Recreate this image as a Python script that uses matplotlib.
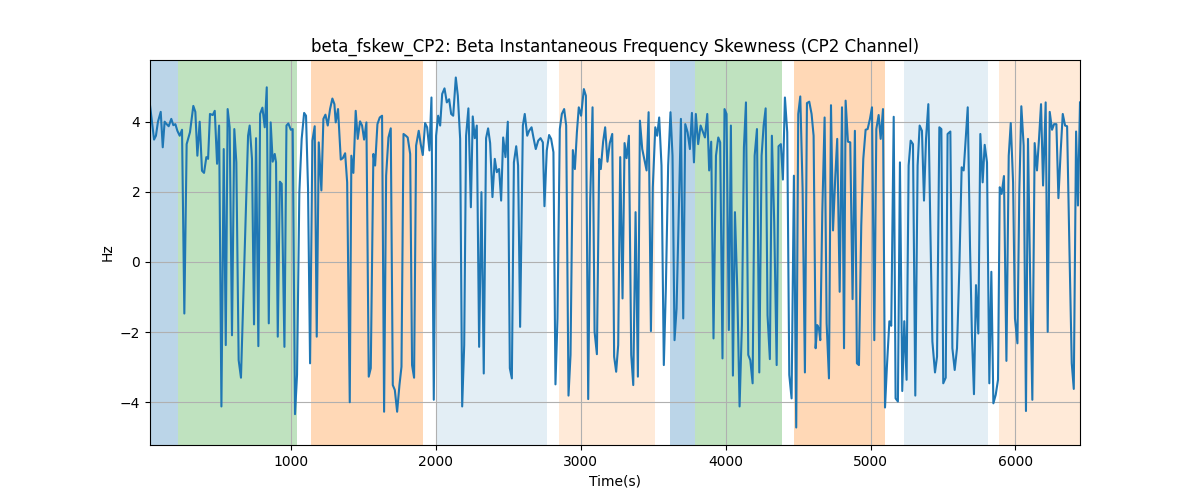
import matplotlib
matplotlib.use("Agg")
import matplotlib.pyplot as plt

title = "beta_fskew_CP2: Beta Instantaneous Frequency Skewness (CP2 Channel)"

times = [
    26, 54, 67, 81, 100, 114, 127, 141, 155, 173, 187, 201, 215, 231, 247, 263, 279, 302, 325, 339,
    353, 369, 385, 399, 415, 427, 440, 459, 473, 489, 503, 519, 535, 549, 562, 576, 592, 608, 622, 638,
    654, 703, 714, 730, 744, 758, 774, 786, 802, 818,
    832, 846, 859, 873, 887, 896, 908, 922, 935, 954, 968, 981, 998, 1011, 1027, 1041, 1057, 1073, 1090, 1103,
    1117, 1131, 1147, 1163, 1177, 1191, 1209, 1223, 1237, 1253, 1269, 1285, 1299, 1308, 1324, 1343, 1357, 1373, 1387, 1405,
    1416, 1430, 1446, 1460, 1476, 1490, 1504, 1520, 1536, 1550, 1568, 1580, 1596, 1612, 1628,
    1642, 1656, 1672, 1688, 1702, 1716, 1732, 1748, 1762, 1776, 1792, 1805, 1822, 1835, 1849, 1863, 1881, 1895, 1909, 1925,
    1939, 1955, 1969, 1985, 2001, 2015, 2029, 2043, 2059, 2075, 2091, 2105, 2119, 2137, 2151, 2167, 2181, 2195, 2208, 2224,
    2241, 2254, 2268, 2282, 2298, 2314, 2330, 2346, 2360, 2374, 2390, 2406, 2420,
    2427, 2436, 2450, 2464, 2480, 2496, 2510, 2524, 2538, 2554, 2567, 2581, 2600, 2613, 2630, 2643, 2660, 2673, 2689, 2706,
    2722, 2738, 2749, 2765, 2781, 2795, 2811, 2825, 2839, 2855, 2869, 2885, 2899, 2915, 2929, 2945, 2959, 2973, 2986, 3002,
    3021, 3035, 3051, 3065, 3081, 3095, 3111, 3127, 3138, 3154, 3168, 3184, 3200, 3217, 3230,
    3244, 3258, 3272, 3288, 3302, 3316, 3332, 3348, 3362, 3378, 3394, 3408, 3424, 3440, 3454, 3468, 3484, 3497, 3514, 3527,
    3541, 3557, 3573, 3587, 3603, 3619, 3633, 3647, 3661, 3677, 3691, 3707, 3721, 3737, 3753, 3767, 3781, 3794, 3810, 3827,
    3840, 3857, 3873, 3886, 3900, 3916, 3933, 3949, 3962, 3978, 3992, 4006, 4022,
    4036, 4050, 4064, 4080, 4096, 4112, 4126, 4140, 4156, 4170, 4186, 4200, 4216, 4232, 4248, 4262, 4276, 4289, 4305, 4319,
    4335, 4352, 4365, 4381, 4395, 4409, 4425, 4439, 4455, 4471, 4487, 4501, 4515, 4531, 4547, 4561, 4577, 4593, 4607, 4621,
    4632, 4644, 4653, 4667, 4683, 4697, 4713, 4727, 4741, 4757, 4770, 4787, 4803, 4817, 4828,
    4844, 4860, 4876, 4892, 4906, 4920, 4936, 4950, 4966, 4980, 4996, 5010, 5026, 5040, 5056, 5070, 5086, 5100, 5113, 5130,
    5143, 5160, 5173, 5189, 5203, 5219, 5233, 5249, 5263, 5277, 5293, 5309, 5325, 5339, 5355, 5369, 5383, 5399, 5413, 5427,
    5445, 5459, 5475, 5489, 5502, 5519, 5532, 5551, 5565, 5581, 5597, 5613, 5629,
    5643, 5657, 5671, 5687, 5700, 5714, 5728, 5744, 5758, 5774, 5788, 5804, 5820, 5834, 5848, 5864, 5880, 5892, 5905, 5921,
    5938, 5954, 5968, 5984, 5997, 6014, 6027, 6041, 6057, 6073, 6087, 6103, 6117, 6133, 6149, 6163, 6177, 6191, 6209, 6223,
    6237, 6253, 6267, 6283, 6297, 6313, 6327, 6343, 6357, 6373, 6389, 6403, 6419, 6432, 6446,
]

skew_hz = [
    4.47, 3.49, 3.6, 4.0, 4.28, 3.27, 4.0, 3.93, 3.87, 4.08, 3.9, 3.93, 3.74, 3.6, 3.77, -1.47, 3.36, 3.7, 4.45, 4.28,
    3.03, 4.0, 2.6, 2.54, 2.99, 2.94, 4.22, 4.19, 4.31, 2.8, 3.89, -4.12, 3.22, -2.37, 4.36, 3.84, -2.09, 3.79, 2.84, -2.8,
    -3.3, 3.6, 3.89, 2.94, -1.78, 3.53, -2.4, 4.22, 4.4, 3.84,
    4.98, -1.75, 3.98, 2.86, 3.08, 2.84, -2.13, 2.29, 2.23, -2.42, 3.89, 3.95, 3.77, 3.79, -4.34, -3.22, 1.99, 3.51, 4.25, 4.17,
    2.09, -2.89, 3.46, 3.87, -2.13, 3.41, 2.04, 4.08, 4.2, 3.89, 4.36, 4.66, 4.5, 3.98, 4.36, 2.92, 2.96, 3.1, 2.27, -4.0,
    3.03, 2.54, 4.31, 3.51, 4.01, 3.89, 3.49, 3.98, -3.27, -3.03, 3.08, 2.75, 3.93, 4.12, 4.17,
    -4.27, 2.46, 3.55, 3.81, -3.51, -3.65, -4.27, -3.51, -2.99, 3.65, 3.6, 3.55, 3.08, -2.94, -3.3, 3.32, 3.74, 3.36, 3.05, 3.96,
    3.84, 3.18, 4.69, -3.93, 3.6, 4.17, 3.89, 4.79, 4.95, 4.55, 4.64, 4.22, 4.17, 5.26, 4.74, 3.51, -4.12, -2.37, 3.6, 4.38,
    1.56, 4.15, 3.53, 3.89, -2.42, 1.99, -3.18, 3.53, 3.81, 3.39, 1.85, 2.94, 2.56,
    2.61, 2.65, 1.75, 3.55, 2.99, 4.0, -3.03, -3.32, 2.84, 3.3, 2.75, -1.85, 3.89, 4.22, 3.6, 3.74, 3.84, 3.55, 3.22, 3.46,
    3.53, 3.41, 1.59, 3.18, 3.62, 3.51, 3.13, -3.49, -1.61, 3.79, 4.22, 4.36, 3.89, -3.81, -2.65, 3.19, 2.65, 3.7, 4.41, 4.17,
    4.93, 4.74, -3.91, 1.8, 4.41, -1.99, -2.63, 2.94, 2.65, 3.43, 3.84, 2.86, 3.39, 3.65, -2.7,
    -3.13, -2.37, 2.99, -1.04, 3.39, 2.96, 3.6, -2.65, -3.51, 1.42, -3.27, 4.03, 3.22, 2.89, 2.61, 4.27, -1.97, 2.13, 3.84, 3.6,
    4.12, 2.75, -2.94, -0.76, 2.75, 4.27, 3.03, -2.23, -1.33, 1.61, 4.08, -1.61, 3.93, 3.7, 3.22, 4.25, 2.84, 4.22, 3.36, 3.89,
    3.74, 3.55, 4.22, 2.61, 3.43, -2.18, 3.03, 3.55, 3.41, -2.75, 4.36, 4.22, -1.94,
    3.89, -3.24, 1.42, -0.76, -4.12, -1.8, 3.27, 4.55, -2.65, -2.8, -3.46, 3.03, 3.79, -3.15, 3.03, 3.89, 4.38, -1.52, -2.77, 3.6,
    1.14, -2.94, 3.3, 3.36, 2.35, 4.69, 3.7, -3.22, -3.89, 2.46, -4.72, 4.22, 4.72, 2.09, -3.15, 4.53, 4.57, 4.22, 3.6, -2.46,
    -1.8, -1.9, -2.23, 1.42, 4.12, -1.75, -3.32, 4.47, 0.9, 2.46, 3.51, -0.85, 4.41, -2.46, 4.6,
    3.43, 3.41, -1.06, 3.74, -2.89, -2.94, 1.04, 2.94, 3.77, 3.79, 4.08, 4.41, -2.23, 3.79, 4.19, 3.51, 4.36, -4.15, -2.99, -1.69,
    -1.82, 4.14, -3.89, -3.98, 2.84, -3.68, -1.69, -3.36, 2.75, 3.46, 3.36, -3.81, 2.75, 3.89, 3.74, 1.75, 3.51, 4.5, 0.95, -2.27,
    -3.15, -2.7, 3.84, 3.79, -3.46, -3.3, 3.65, 3.72, -2.46, -3.08, -2.46, -0.19, 2.7,
    2.61, 3.51, 4.41, 0.38, -2.09, -3.77, -0.66, -2.04, 3.65, 2.27, 3.34, 2.84, -3.46, -0.28, -4.03, -3.79, -3.36, 2.13, 1.94, 2.45,
    -2.82, 3.03, 3.96, 2.27, -1.61, -2.32, 1.99, 4.44, 3.32, -4.25, 3.51, -0.76, -3.93, 3.39, 2.61, 3.51, 4.5, 2.18, 4.55, -1.99,
    4.28, 3.77, 3.93, 3.93, 1.82, 3.18, 4.22, 3.89, 3.87, 0.38, -2.89, -3.62, 3.72, 1.61, 4.55,
]

span_starts = [26, 220, 1138, 2006, 2846, 3614, 3785, 4469, 5229, 5884]
span_ends = [220, 1040, 1912, 2766, 3510, 3785, 4389, 5098, 5812, 6449]
span_colors = ["tab:blue", "tab:green", "tab:orange", "tab:blue", "tab:orange",
               "tab:blue", "tab:green", "tab:orange", "tab:blue", "tab:orange"]
span_alphas = [0.3, 0.3, 0.3, 0.12, 0.16, 0.3, 0.3, 0.3, 0.12, 0.16]

fig, ax = plt.subplots(figsize=(12, 5), dpi=100)
for s, e, c, a in zip(span_starts, span_ends, span_colors, span_alphas):
    ax.axvspan(s, e, color=c, alpha=a, linewidth=0)
ax.plot(times, skew_hz, color="tab:blue", linewidth=1.5)
ax.set_xlim(times[0], times[-1])
ax.set_title(title)
ax.set_xlabel("Time(s)")
ax.set_ylabel("Hz")
ax.grid(True)
fig.savefig("out.png", dpi=100)
